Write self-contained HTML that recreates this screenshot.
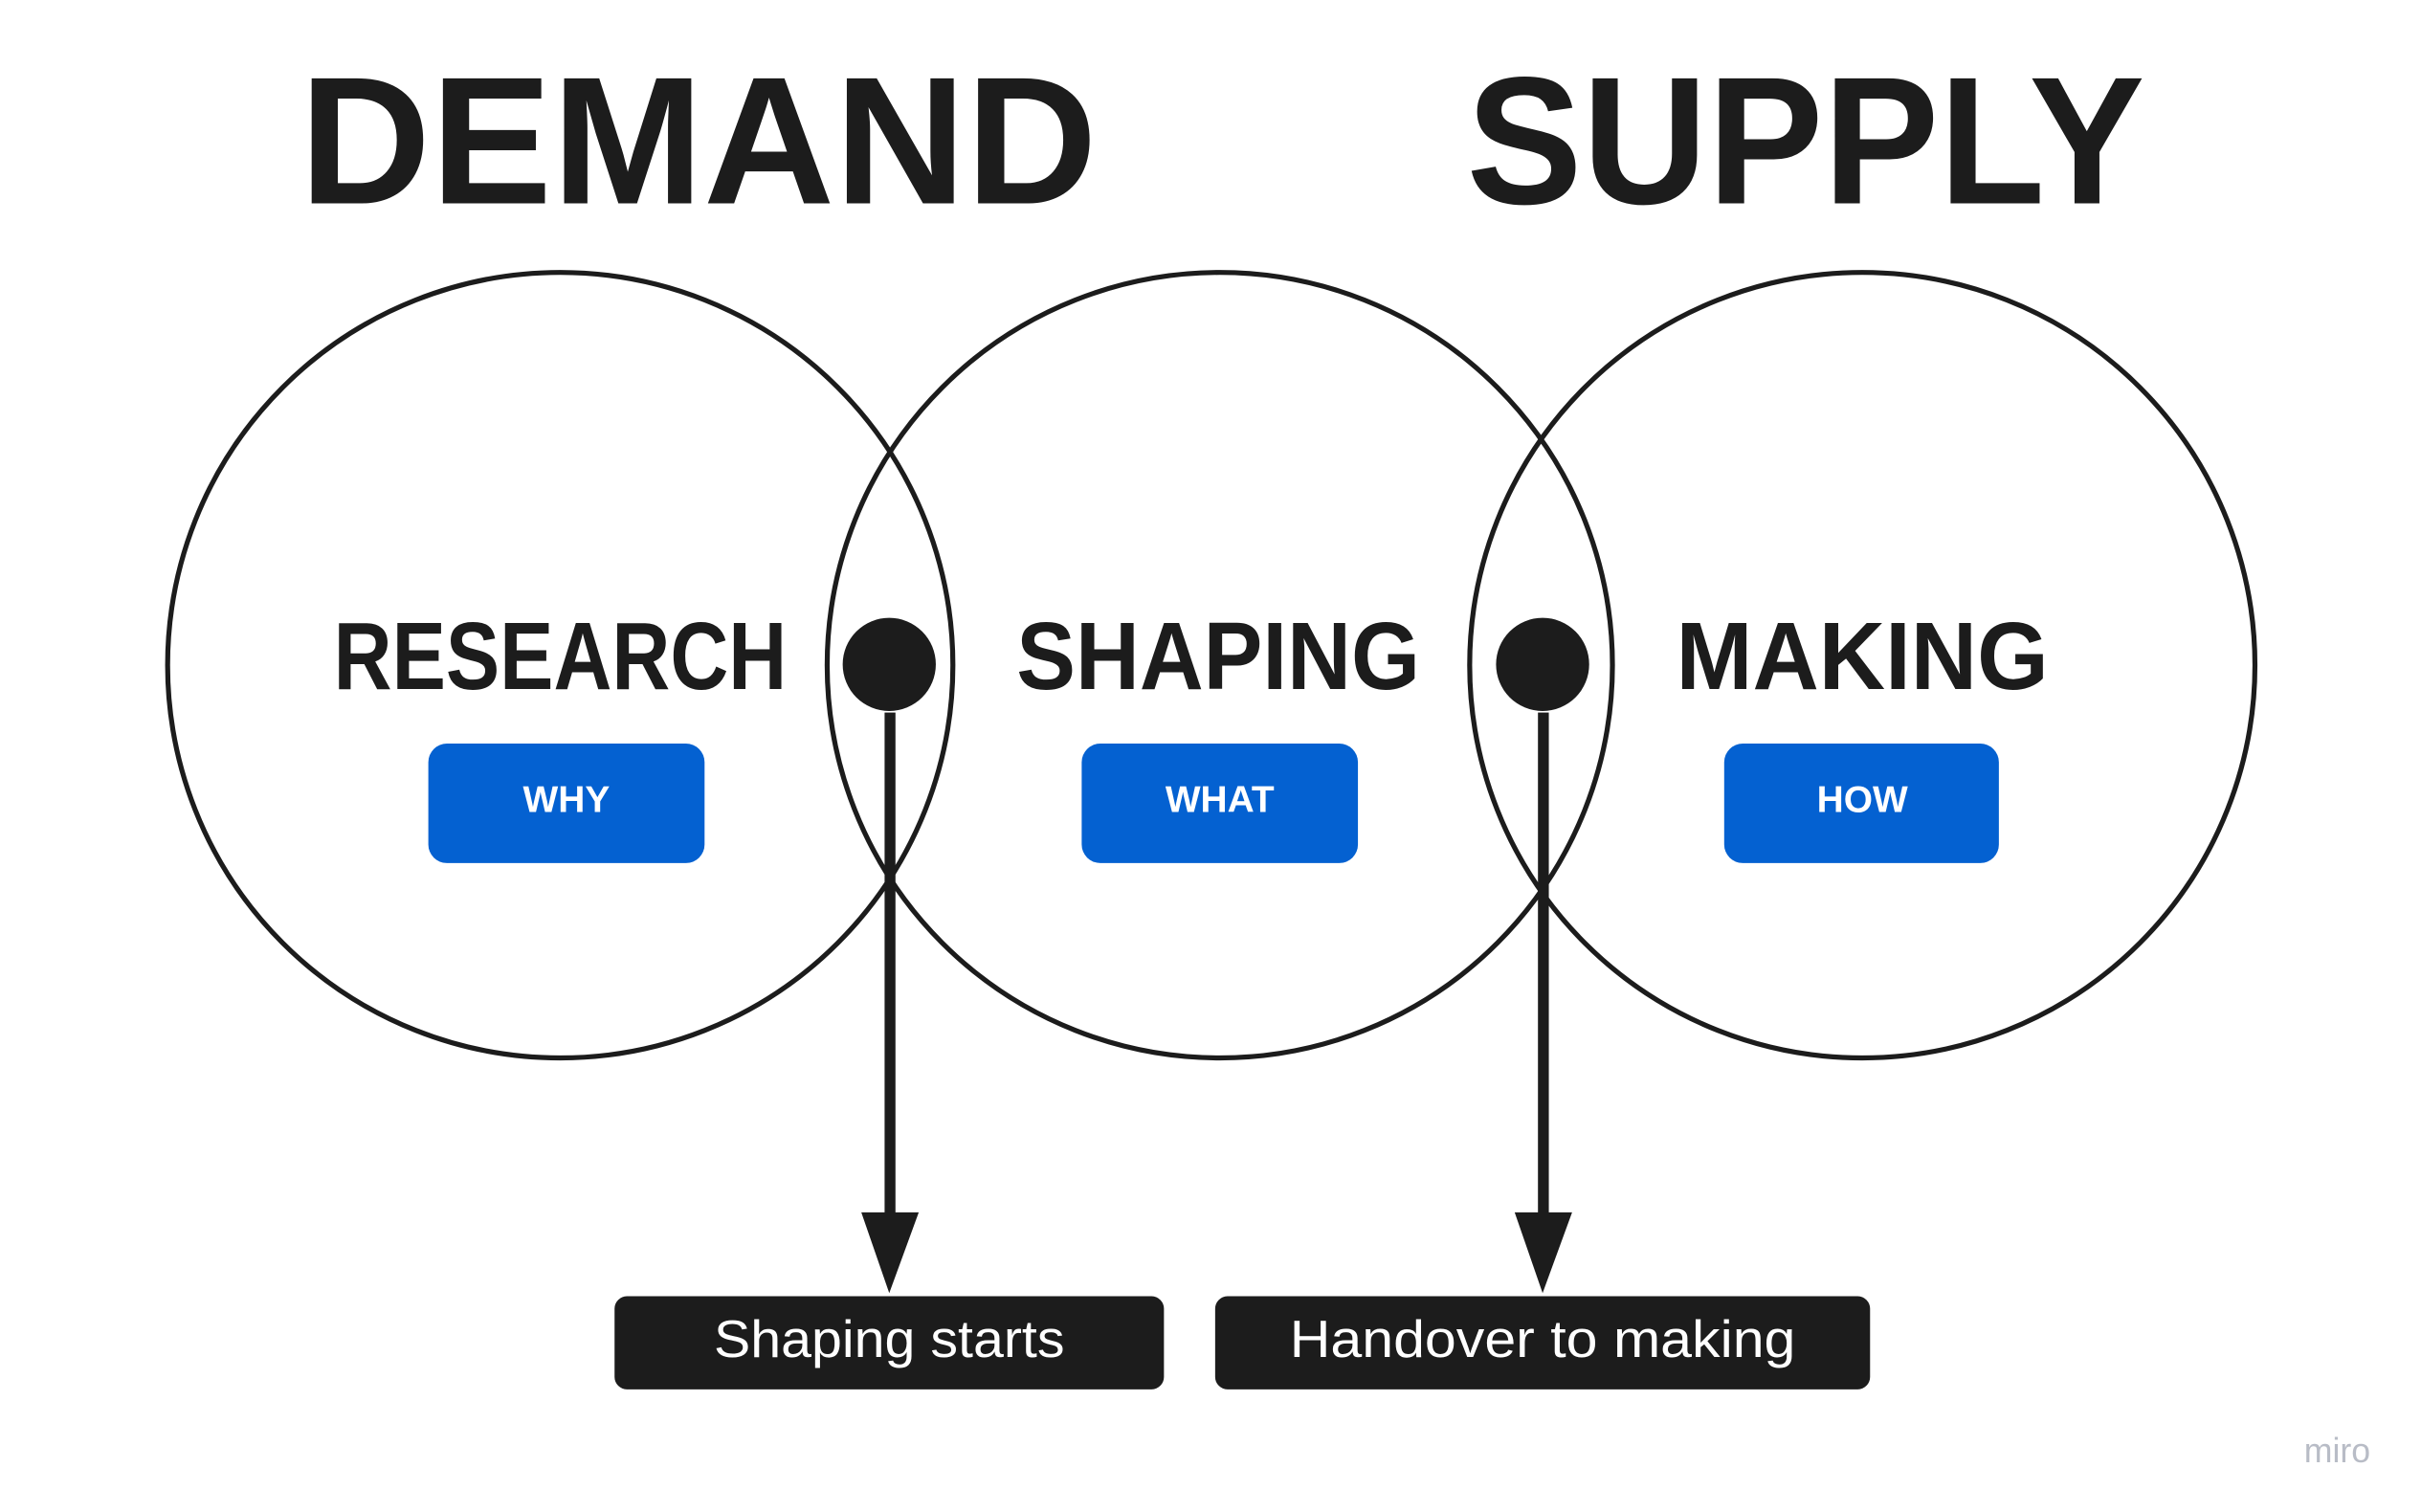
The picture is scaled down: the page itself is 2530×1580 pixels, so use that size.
<!DOCTYPE html>
<html><head><meta charset="utf-8"><style>
html,body{margin:0;padding:0;background:#fff;}
svg{display:block;}
</style></head><body>
<svg width="2530" height="1580" viewBox="0 0 1560 974" preserveAspectRatio="none" xmlns="http://www.w3.org/2000/svg">
<rect width="1560" height="974" fill="#fff"/>
<g font-family="'Liberation Sans', 'DejaVu Sans', sans-serif" font-weight="bold" fill="#1c1c1c">
<text x="193" y="131" font-size="117" textLength="514" lengthAdjust="spacingAndGlyphs">DEMAND</text>
<text x="945" y="131" font-size="117" textLength="437" lengthAdjust="spacingAndGlyphs">SUPPLY</text>
</g>
<g fill="none" stroke="#1c1c1c" stroke-width="3.2">
<circle cx="361" cy="428.5" r="253"/>
<circle cx="786" cy="428.5" r="253"/>
<circle cx="1200" cy="428.5" r="253"/>
</g>
<g font-family="'Liberation Sans', 'DejaVu Sans', sans-serif" font-weight="bold" fill="#1c1c1c" font-size="62">
<text x="215" y="444" textLength="292" lengthAdjust="spacingAndGlyphs">RESEARCH</text>
<text x="655" y="444" textLength="260" lengthAdjust="spacingAndGlyphs">SHAPING</text>
<text x="1080" y="444" textLength="240" lengthAdjust="spacingAndGlyphs">MAKING</text>
</g>
<g fill="#0461d1">
<rect x="276" y="479" width="178" height="77" rx="12"/>
<rect x="697" y="479" width="178" height="77" rx="12"/>
<rect x="1111" y="479" width="177" height="77" rx="12"/>
</g>
<g font-family="'Liberation Sans', 'DejaVu Sans', sans-serif" font-weight="bold" fill="#fff" font-size="24" text-anchor="middle">
<text x="365" y="523">WHY</text>
<text x="786" y="523">WHAT</text>
<text x="1200" y="523">HOW</text>
</g>
<g fill="#1c1c1c">
<circle cx="573" cy="428" r="30"/>
<circle cx="994" cy="428" r="30"/>
<rect x="570" y="459" width="7" height="330"/>
<rect x="991" y="459" width="7" height="330"/>
<polygon points="555,781 592,781 573,833"/>
<polygon points="976,781 1013,781 994,833"/>
<rect x="396" y="835" width="354" height="60" rx="8"/>
<rect x="783" y="835" width="422" height="60" rx="8"/>
</g>
<g font-family="'Liberation Sans', 'DejaVu Sans', sans-serif" fill="#fff" font-size="34" text-anchor="middle">
<text x="573" y="874" textLength="226" lengthAdjust="spacingAndGlyphs">Shaping starts</text>
<text x="994" y="874" textLength="326" lengthAdjust="spacingAndGlyphs">Handover to making</text>
</g>
<text x="1506" y="942" font-family="'Liberation Sans', sans-serif" font-size="22" fill="#b8bcc6" text-anchor="middle">miro</text>
</svg>
</body></html>
